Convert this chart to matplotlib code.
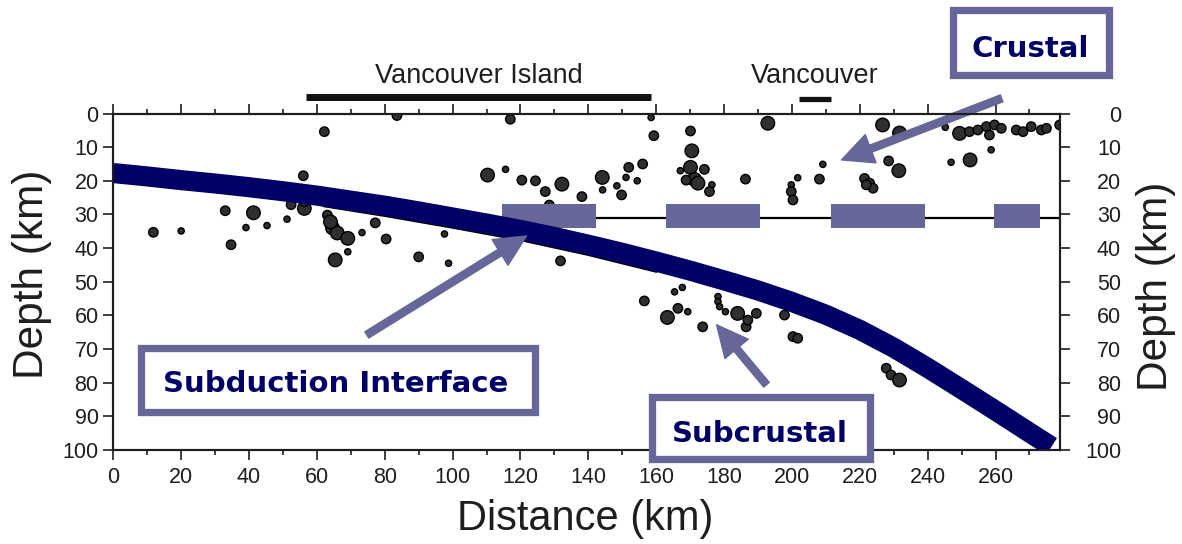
import matplotlib.pyplot as plt
from matplotlib.patches import Rectangle
from matplotlib.transforms import blended_transform_factory

W, H = 1182, 544

# earthquake hypocentres: distance (km), depth (km), size class 1-3
quake_x = [62.2, 56.0, 11.8, 20.0, 33.0, 41.3, 39.1, 34.7, 45.3, 51.2, 52.4, 56.3, 56.3,
           63.1, 64.6, 66.0, 64.0, 69.1, 69.1, 65.4, 73.3, 77.2, 80.4, 83.6, 117.0,
           158.5, 159.3, 170.1, 170.5, 192.9, 110.3, 115.6, 120.4, 124.4, 127.3, 132.2,
           138.1, 128.5, 144.1, 144.2, 148.4, 149.8, 151.1, 151.9, 154.4, 156.0, 167.1,
           170.1, 174.2, 171.3, 172.3, 168.8, 176.4, 175.7, 186.3, 90.0, 97.6, 98.8, 131.8,
           226.7, 231.7, 245.2, 249.4, 252.3, 254.8, 257.3, 259.7, 261.7, 258.2, 266.1,
           268.1, 270.5, 273.5, 275.0, 278.9, 258.7, 252.5, 246.9, 228.5, 231.5, 221.4,
           222.9, 223.9, 221.9, 209.1, 208.1, 201.7, 199.8, 199.8, 200.3,
           156.5, 165.4, 167.7, 163.3, 166.4, 169.3, 173.7, 178.2, 178.2, 178.7, 180.4,
           184.0, 186.5, 187.0, 189.5, 197.8, 200.3, 201.7, 227.8, 229.2, 231.7]
quake_depth = [5.4, 18.5, 35.3, 34.9, 28.9, 29.5, 33.9, 39.0, 33.3, 31.4, 27.1, 28.2, 26.2,
               30.2, 34.0, 35.5, 32.2, 37.1, 41.1, 43.5, 35.4, 32.5, 37.3, 0.6, 1.7,
               1.2, 6.6, 5.2, 11.1, 2.9, 18.3, 16.6, 19.8, 20.0, 23.2, 21.0,
               24.7, 27.2, 19.0, 22.7, 21.5, 24.2, 19.0, 16.0, 20.0, 15.0, 17.0,
               16.0, 16.6, 19.6, 20.7, 19.8, 21.2, 23.2, 19.5, 42.6, 35.8, 44.5, 43.8,
               3.4, 5.8, 4.1, 5.9, 5.4, 4.9, 3.9, 3.4, 4.4, 6.4, 4.9,
               5.4, 3.9, 4.9, 4.4, 3.4, 10.8, 13.8, 14.5, 14.1, 17.0, 19.3,
               20.7, 22.2, 21.2, 15.1, 19.5, 19.1, 21.2, 23.2, 25.7,
               55.7, 53.0, 51.7, 60.6, 57.9, 58.9, 63.4, 54.4, 55.9, 57.4, 58.9,
               59.4, 63.4, 61.4, 59.4, 59.9, 66.3, 66.8, 75.7, 77.7, 79.2]
quake_mag = [2, 2, 2, 1, 2, 3, 1, 2, 1, 1, 2, 3, 2,
             2, 3, 3, 3, 3, 1, 3, 1, 2, 2, 2, 2,
             1, 2, 2, 3, 3, 3, 1, 2, 2, 2, 3,
             2, 2, 3, 1, 1, 2, 1, 2, 1, 2, 1,
             3, 2, 3, 3, 2, 1, 2, 2, 2, 1, 1, 2,
             3, 3, 1, 3, 2, 2, 2, 2, 2, 2, 2,
             2, 2, 2, 2, 2, 1, 3, 1, 2, 3, 2,
             2, 2, 2, 1, 2, 1, 1, 2, 2,
             2, 1, 1, 3, 2, 1, 2, 1, 1, 1, 1,
             3, 2, 2, 2, 2, 2, 2, 2, 2, 3]

# subducting plate band, centre line
slab_x = [0, 10, 20, 30, 40, 50, 60, 70, 80, 90, 100, 110, 120, 130, 140, 150,
          160, 170, 180, 190, 200, 210, 220, 230, 240, 250, 260, 270, 276.5]
slab_depth = [17.7, 18.7, 19.8, 20.8, 21.9, 23.1, 24.4, 25.9, 27.4, 29.1, 30.9, 32.7,
              34.6, 36.7, 39.0, 41.4, 44.0, 46.7, 49.6, 52.6, 56.0, 59.8, 64.3, 69.6,
              75.6, 81.9, 88.3, 94.8, 99.0]

# thin plate-top line of the original figure, just under the band
interface_x = [62, 80, 100, 120, 140, 160]
interface_depth = [27.6, 30.5, 34.0, 37.7, 42.1, 47.1]

# base of crust: thin line plus blue dashes
moho_x = [114, 279]
moho_depth = [31.0, 31.0]
moho_dash_start = [114.7, 162.9, 211.4, 259.5]
moho_dash_width = [27.6, 27.8, 27.7, 13.5]

regions = ['Vancouver Island', 'Vancouver']
region_start = [56.8, 202.0]
region_end = [158.4, 211.4]

size_of = {1: 20, 2: 46, 3: 95}
band = '#000066'
slate = '#666699'
ink = '#1e1e1e'
helv = ['Liberation Sans', 'DejaVu Sans']

fig = plt.figure(figsize=(W / 100, H / 100), dpi=100)
ax = fig.add_axes([113.3 / W, 1 - 450 / H, (1060 - 113.3) / W, (450 - 113.5) / H])
ax.set_xlim(0, 279)
ax.set_ylim(100, 0)

ax.scatter(quake_x, quake_depth, s=[size_of[m] for m in quake_mag],
           c='#2f2f2f', edgecolors='black', linewidths=1.0, zorder=3)
ax.plot(moho_x, moho_depth, color='black', lw=1.6, zorder=2)
ax.plot(interface_x, interface_depth, color='black', lw=1.2, zorder=2)
ax.broken_barh(list(zip(moho_dash_start, moho_dash_width)), (26.9, 7.0),
               facecolors=slate, zorder=4)
ax.plot(slab_x, slab_depth, color=band, lw=14.5, solid_capstyle='butt',
        solid_joinstyle='round', zorder=5)

# ticks
ax.set_xticks(range(0, 261, 20))
ax.set_xticks(range(10, 279, 10), minor=True)
ax.set_yticks(range(0, 101, 10))
ax.tick_params(axis='x', which='both', top=True, bottom=True, direction='out',
               width=1.2, color=ink)
ax.tick_params(axis='x', which='major', length=7, pad=5)
ax.tick_params(axis='x', which='minor', length=3.5)
ax.tick_params(axis='y', direction='out', length=7, width=1.2, pad=3.6, color=ink)
ax.tick_params(labelsize=15.5, labelcolor=ink)
for lab in ax.get_xticklabels() + ax.get_yticklabels():
    lab.set_family(helv)
for sp in ax.spines.values():
    sp.set_linewidth(1.5)
    sp.set_color(ink)

ax2 = ax.twinx()
ax2.set_ylim(100, 0)
ax2.set_yticks(range(0, 101, 10))
ax2.tick_params(direction='out', length=7, width=1.2, pad=37, labelsize=15.5,
                labelcolor=ink, color=ink)
for lab in ax2.get_yticklabels():
    lab.set_horizontalalignment('right')
    lab.set_family(helv)
for sp in ax2.spines.values():
    sp.set_linewidth(1.5)
    sp.set_color(ink)

# location bars above the section
trans = blended_transform_factory(ax.transData, ax.transAxes)
bar_y = [1.050, 1.0425]
bar_lw = [5, 3.8]
for name, x0, x1, y, lw in zip(regions, region_start, region_end, bar_y, bar_lw):
    ax.plot([x0, x1], [y, y], color='#111111', lw=lw, transform=trans,
            clip_on=False, solid_capstyle='butt')
    ax.text((x0 + x1) / 2, 1.090, name, transform=trans, ha='center', va='baseline',
            fontsize=19.5, family=helv, color=ink)

# axis titles
fig.text(585.5 / W, 1 - 530 / H, 'Distance (km)', ha='center', va='baseline',
         fontsize=30, family=helv, color=ink)
fig.text(43 / W, 1 - 274 / H, 'Depth (km)', rotation=90, rotation_mode='anchor',
         ha='center', va='baseline', fontsize=30.5, family=helv, color=ink)
fig.text(1167 / W, 1 - 286 / H, 'Depth (km)', rotation=90, rotation_mode='anchor',
         ha='center', va='baseline', fontsize=30.5, family=helv, color=ink)

# arrows
arrow_style = 'simple,head_length=1.5,head_width=1.45,tail_width=0.35'
for tip, tail in [((214.6, 13.8), (261.8, -4.5)),
                  ((121.8, 36.4), (74.7, 65.8)),
                  ((177.8, 62.8), (192.5, 80.6))]:
    ax.annotate('', xy=tip, xytext=tail, annotation_clip=False, zorder=6,
                arrowprops=dict(arrowstyle=arrow_style, mutation_scale=15,
                                color=slate, shrinkA=0, shrinkB=0))


def label_box(x0, y0, x1, y1, text, tx, ty):
    bw = 7.3
    r = Rectangle(((x0 + bw / 2) / W, 1 - (y1 - bw / 2) / H),
                  (x1 - x0 - bw) / W, (y1 - y0 - bw) / H, transform=fig.transFigure,
                  facecolor='white', edgecolor=slate, linewidth=bw * 0.72, zorder=5)
    fig.add_artist(r)
    fig.text(tx / W, 1 - ty / H, text, ha='center', va='baseline', fontsize=21,
             fontweight='bold', family='DejaVu Sans', color=band, zorder=6)


label_box(949, 6.7, 1113, 79, 'Crustal', 1030, 57)
label_box(137.3, 344, 538.3, 415.7, 'Subduction Interface', 335.8, 392)
label_box(648.3, 393.3, 873.3, 463, 'Subcrustal', 760, 442)

fig.savefig('out.png', dpi=100)
